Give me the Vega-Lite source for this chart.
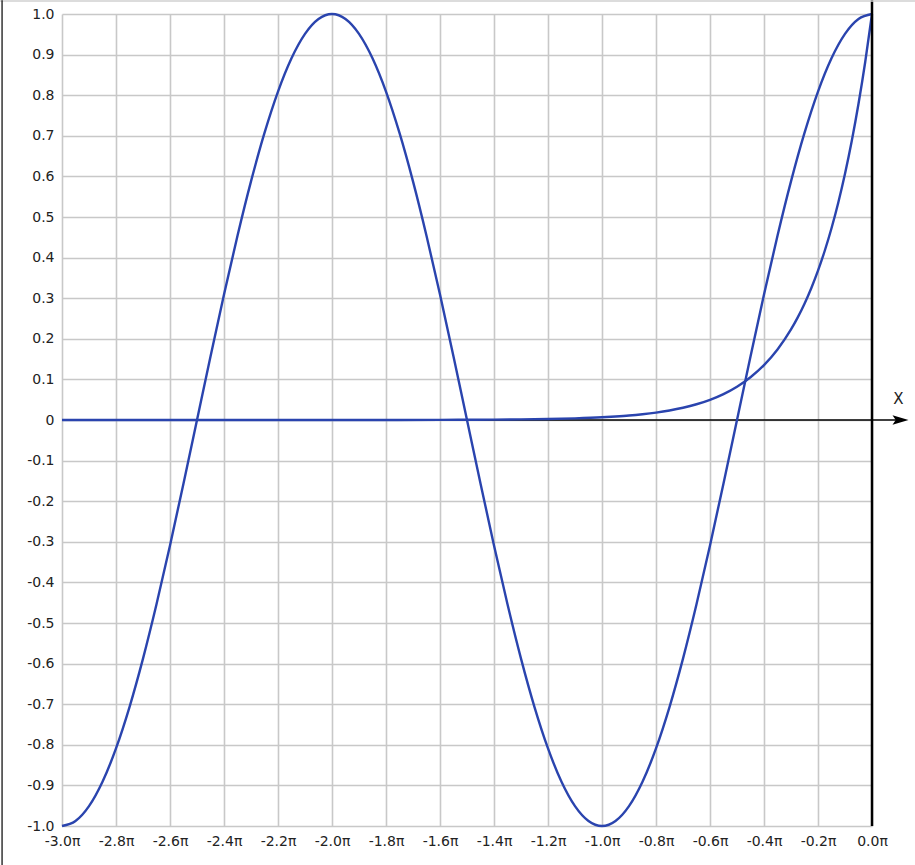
{
  "$schema": "https://vega.github.io/schema/vega-lite/v6.json",
  "description": "cos(x) and an exponential curve on [-3pi, 0].",
  "autosize": {"type": "none"},
  "padding": {"left": 62, "top": 14, "right": 43, "bottom": 39},
  "width": 810,
  "height": 812,
  "background": "white",
  "config": {
    "view": {"stroke": null},
    "axis": {
      "labelFont": "DejaVu Sans",
      "labelFontSize": 14,
      "labelColor": "#222222",
      "labelFlush": false,
      "labelOverlap": false,
      "grid": true,
      "gridColor": "#c8c8c8",
      "gridWidth": 1.6,
      "domain": false,
      "ticks": false,
      "title": null
    }
  },
  "datasets": {
    "curves": [
      {"t": -3.0, "f": "cos", "v": -1},
      {"t": -2.95, "f": "cos", "v": -0.9877},
      {"t": -2.9, "f": "cos", "v": -0.9511},
      {"t": -2.85, "f": "cos", "v": -0.891},
      {"t": -2.8, "f": "cos", "v": -0.809},
      {"t": -2.75, "f": "cos", "v": -0.7071},
      {"t": -2.7, "f": "cos", "v": -0.5878},
      {"t": -2.65, "f": "cos", "v": -0.454},
      {"t": -2.6, "f": "cos", "v": -0.309},
      {"t": -2.55, "f": "cos", "v": -0.1564},
      {"t": -2.5, "f": "cos", "v": 0},
      {"t": -2.45, "f": "cos", "v": 0.1564},
      {"t": -2.4, "f": "cos", "v": 0.309},
      {"t": -2.35, "f": "cos", "v": 0.454},
      {"t": -2.3, "f": "cos", "v": 0.5878},
      {"t": -2.25, "f": "cos", "v": 0.7071},
      {"t": -2.2, "f": "cos", "v": 0.809},
      {"t": -2.15, "f": "cos", "v": 0.891},
      {"t": -2.1, "f": "cos", "v": 0.9511},
      {"t": -2.05, "f": "cos", "v": 0.9877},
      {"t": -2.0, "f": "cos", "v": 1},
      {"t": -1.95, "f": "cos", "v": 0.9877},
      {"t": -1.9, "f": "cos", "v": 0.9511},
      {"t": -1.85, "f": "cos", "v": 0.891},
      {"t": -1.8, "f": "cos", "v": 0.809},
      {"t": -1.75, "f": "cos", "v": 0.7071},
      {"t": -1.7, "f": "cos", "v": 0.5878},
      {"t": -1.65, "f": "cos", "v": 0.454},
      {"t": -1.6, "f": "cos", "v": 0.309},
      {"t": -1.55, "f": "cos", "v": 0.1564},
      {"t": -1.5, "f": "cos", "v": 0},
      {"t": -1.45, "f": "cos", "v": -0.1564},
      {"t": -1.4, "f": "cos", "v": -0.309},
      {"t": -1.35, "f": "cos", "v": -0.454},
      {"t": -1.3, "f": "cos", "v": -0.5878},
      {"t": -1.25, "f": "cos", "v": -0.7071},
      {"t": -1.2, "f": "cos", "v": -0.809},
      {"t": -1.15, "f": "cos", "v": -0.891},
      {"t": -1.1, "f": "cos", "v": -0.9511},
      {"t": -1.05, "f": "cos", "v": -0.9877},
      {"t": -1.0, "f": "cos", "v": -1},
      {"t": -0.95, "f": "cos", "v": -0.9877},
      {"t": -0.9, "f": "cos", "v": -0.9511},
      {"t": -0.85, "f": "cos", "v": -0.891},
      {"t": -0.8, "f": "cos", "v": -0.809},
      {"t": -0.75, "f": "cos", "v": -0.7071},
      {"t": -0.7, "f": "cos", "v": -0.5878},
      {"t": -0.65, "f": "cos", "v": -0.454},
      {"t": -0.6, "f": "cos", "v": -0.309},
      {"t": -0.55, "f": "cos", "v": -0.1564},
      {"t": -0.5, "f": "cos", "v": 0},
      {"t": -0.45, "f": "cos", "v": 0.1564},
      {"t": -0.4, "f": "cos", "v": 0.309},
      {"t": -0.35, "f": "cos", "v": 0.454},
      {"t": -0.3, "f": "cos", "v": 0.5878},
      {"t": -0.25, "f": "cos", "v": 0.7071},
      {"t": -0.2, "f": "cos", "v": 0.809},
      {"t": -0.15, "f": "cos", "v": 0.891},
      {"t": -0.1, "f": "cos", "v": 0.9511},
      {"t": -0.05, "f": "cos", "v": 0.9877},
      {"t": 0.0, "f": "cos", "v": 1},
      {"t": -3.0, "f": "exp", "v": 0},
      {"t": -2.5, "f": "exp", "v": 0},
      {"t": -2.0, "f": "exp", "v": 0},
      {"t": -1.8, "f": "exp", "v": 0.0001},
      {"t": -1.6, "f": "exp", "v": 0.0003},
      {"t": -1.5, "f": "exp", "v": 0.0006},
      {"t": -1.4, "f": "exp", "v": 0.0009},
      {"t": -1.3, "f": "exp", "v": 0.0015},
      {"t": -1.2, "f": "exp", "v": 0.0025},
      {"t": -1.1, "f": "exp", "v": 0.0041},
      {"t": -1.0, "f": "exp", "v": 0.0067},
      {"t": -0.95, "f": "exp", "v": 0.0087},
      {"t": -0.9, "f": "exp", "v": 0.0111},
      {"t": -0.85, "f": "exp", "v": 0.0143},
      {"t": -0.8, "f": "exp", "v": 0.0183},
      {"t": -0.75, "f": "exp", "v": 0.0235},
      {"t": -0.7, "f": "exp", "v": 0.0302},
      {"t": -0.65, "f": "exp", "v": 0.0388},
      {"t": -0.6, "f": "exp", "v": 0.0498},
      {"t": -0.55, "f": "exp", "v": 0.0639},
      {"t": -0.5, "f": "exp", "v": 0.0821},
      {"t": -0.45, "f": "exp", "v": 0.1054},
      {"t": -0.4, "f": "exp", "v": 0.1353},
      {"t": -0.35, "f": "exp", "v": 0.1738},
      {"t": -0.3, "f": "exp", "v": 0.2231},
      {"t": -0.275, "f": "exp", "v": 0.2528},
      {"t": -0.25, "f": "exp", "v": 0.2865},
      {"t": -0.225, "f": "exp", "v": 0.3247},
      {"t": -0.2, "f": "exp", "v": 0.3679},
      {"t": -0.175, "f": "exp", "v": 0.4169},
      {"t": -0.15, "f": "exp", "v": 0.4724},
      {"t": -0.125, "f": "exp", "v": 0.5353},
      {"t": -0.1, "f": "exp", "v": 0.6065},
      {"t": -0.075, "f": "exp", "v": 0.6873},
      {"t": -0.05, "f": "exp", "v": 0.7788},
      {"t": -0.025, "f": "exp", "v": 0.8825},
      {"t": 0.0, "f": "exp", "v": 1}
    ],
    "one": [{}]
  },
  "layer": [
    {
      "data": {"name": "one"},
      "mark": {"type": "rule", "color": "black", "strokeWidth": 1.5, "clip": false},
      "encoding": {
        "x": {
          "datum": -3,
          "type": "quantitative",
          "scale": {"domain": [-3, 0], "nice": false, "zero": false},
          "axis": {
            "values": [-3, -2.8, -2.6, -2.4, -2.2, -2, -1.8, -1.6, -1.4, -1.2, -1, -0.8, -0.6, -0.4, -0.2, 0],
            "labelPadding": 8,
            "labelExpr": "replace(format(datum.value, '.1f'), '\u2212', '-') + '\u03c0'"
          }
        },
        "x2": {"datum": 0.11},
        "y": {
          "datum": 0,
          "type": "quantitative",
          "scale": {"domain": [-1, 1], "nice": false},
          "axis": {
            "values": [-1, -0.9, -0.8, -0.7, -0.6, -0.5, -0.4, -0.3, -0.2, -0.1, 0, 0.1, 0.2, 0.3, 0.4, 0.5, 0.6, 0.7, 0.8, 0.9, 1],
            "labelPadding": 8,
            "labelExpr": "datum.value == 0 ? '0' : replace(format(datum.value, '.1f'), '\u2212', '-')"
          }
        }
      }
    },
    {
      "data": {"name": "curves"},
      "mark": {"type": "line", "interpolate": "monotone", "color": "#2a44ae", "strokeWidth": 2.4},
      "encoding": {
        "x": {"field": "t", "type": "quantitative"},
        "y": {"field": "v", "type": "quantitative"},
        "detail": {"field": "f", "type": "nominal"}
      }
    },
    {
      "data": {"name": "one"},
      "mark": {"type": "point", "shape": "M-1,-0.6L1,0L-1,0.6L-0.6,0Z", "filled": true, "color": "black", "opacity": 1, "size": 256, "clip": false},
      "encoding": {
        "x": {"datum": 0.1056},
        "y": {"datum": 0}
      }
    },
    {
      "data": {"name": "one"},
      "mark": {"type": "text", "text": "X", "font": "DejaVu Sans", "fontSize": 15, "color": "#222222", "align": "center", "baseline": "middle", "clip": false},
      "encoding": {
        "x": {"datum": 0.0974},
        "y": {"datum": 0.051}
      }
    },
    {
      "data": {"name": "one"},
      "mark": {"type": "rule", "color": "black", "strokeWidth": 2.5, "clip": false},
      "encoding": {
        "x": {"datum": 0},
        "y": {"datum": -1},
        "y2": {"datum": 1.0345}
      }
    },
    {
      "data": {"name": "one"},
      "mark": {"type": "rule", "color": "#d0d0d0", "strokeWidth": 1.5, "clip": false},
      "encoding": {
        "x": {"datum": -3.23},
        "x2": {"datum": 0.16},
        "y": {"datum": 1.032}
      }
    },
    {
      "data": {"name": "one"},
      "mark": {"type": "rule", "color": "black", "strokeWidth": 1.2, "clip": false},
      "encoding": {
        "x": {"datum": -3.222},
        "y": {"datum": -1.1},
        "y2": {"datum": 1.034}
      }
    }
  ]
}
